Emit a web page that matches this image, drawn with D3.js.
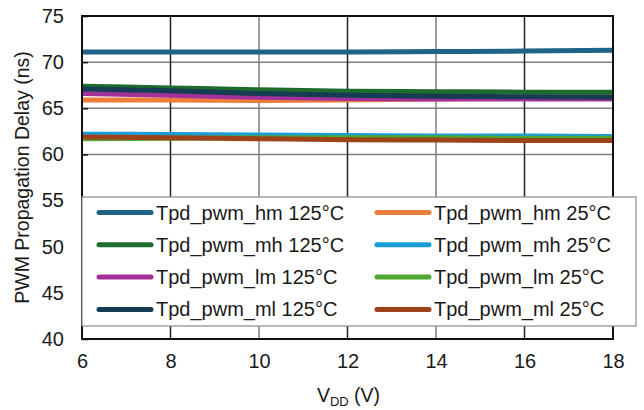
<!DOCTYPE html>
<html>
<head>
<meta charset="utf-8">
<script src="https://cdn.jsdelivr.net/npm/d3@7"></script>
<style>
  body { margin: 0; background: #fff; }
  text { font-family: "Liberation Sans", Arial, sans-serif; fill: #1a1a1a; }
</style>
</head>
<body>
<svg id="chart" width="644" height="410"></svg>
<script>
const vdd = [6, 8, 10, 12, 14, 16, 18];

const hm125 = [71.1, 71.1, 71.1, 71.1, 71.15, 71.2, 71.3];
const mh125 = [67.4, 67.2, 67.0, 66.85, 66.8, 66.75, 66.75];
const lm125 = [66.6, 66.4, 66.2, 66.05, 66.0, 66.0, 66.0];
const ml125 = [67.1, 66.9, 66.6, 66.4, 66.3, 66.25, 66.2];
const hm25 = [65.9, 65.9, 65.85, 65.9, 66.0, 66.15, 66.3];
const mh25 = [62.2, 62.15, 62.1, 62.05, 62.0, 62.0, 61.95];
const lm25 = [61.7, 61.75, 61.8, 61.8, 61.8, 61.75, 61.75];
const ml25 = [61.9, 61.8, 61.7, 61.6, 61.55, 61.5, 61.5];

const xTicks = [6, 8, 10, 12, 14, 16, 18];
const yTicks = [40, 45, 50, 55, 60, 65, 70, 75];

const series = [
  { name: 'Tpd_pwm_hm 125°C', values: hm125, color: '#1f6487' },
  { name: 'Tpd_pwm_mh 125°C', values: mh125, color: '#1e6b2e' },
  { name: 'Tpd_pwm_lm 125°C', values: lm125, color: '#a3309b' },
  { name: 'Tpd_pwm_ml 125°C', values: ml125, color: '#153c52' },
  { name: 'Tpd_pwm_hm 25°C', values: hm25, color: '#ed7d3a' },
  { name: 'Tpd_pwm_mh 25°C', values: mh25, color: '#1a9cd8' },
  { name: 'Tpd_pwm_lm 25°C', values: lm25, color: '#4ea72e' },
  { name: 'Tpd_pwm_ml 25°C', values: ml25, color: '#9e4319' }
];

let margin = { top: 16, right: 31, bottom: 71, left: 82 };
let width = 644 - margin.left - margin.right;
let height = 410 - margin.top - margin.bottom;

let x = d3.scaleLinear().domain([6, 18]).range([0, width]);
let y = d3.scaleLinear().domain([40, 75]).range([height, 0]);

let svg = d3.select('#chart');
let chart = svg.append('g')
    .attr('transform', `translate(${margin.left},${margin.top})`);

// grid
chart.selectAll('.hgrid')
    .data(yTicks.slice(1, -1))
  .enter().append('line')
    .attr('x1', 0).attr('x2', width)
    .attr('y1', d => y(d)).attr('y2', d => y(d))
    .attr('stroke', '#7f7f7f').attr('stroke-width', 1.5);

chart.selectAll('.vgrid')
    .data(xTicks.slice(1, -1))
  .enter().append('line')
    .attr('x1', d => x(d)).attr('x2', d => x(d))
    .attr('y1', 0).attr('y2', height)
    .attr('stroke', (d, i) => i % 2 ? '#7f7f7f' : '#222').attr('stroke-width', 1.5);

// lines (25°C drawn first, 125°C on top)
let line = d3.line()
    .x((d, i) => x(vdd[i]))
    .y(d => y(d))
    .curve(d3.curveMonotoneX);

let drawOrder = series.slice(4).concat(series.slice(0, 4));

chart.selectAll('.series')
    .data(drawOrder)
  .enter().append('path')
    .attr('d', d => line(d.values))
    .attr('fill', 'none')
    .attr('stroke', d => d.color)
    .attr('stroke-width', 5);

// frame
chart.append('rect')
    .attr('width', width).attr('height', height)
    .attr('fill', 'none').attr('stroke', '#111').attr('stroke-width', 2);

// axes
let yAxis = d3.axisLeft(y).tickValues(yTicks).tickSize(-6).tickPadding(18);
let xAxis = d3.axisBottom(x).tickValues(xTicks).tickSize(0).tickPadding(15);

let gy = chart.append('g').call(yAxis);
let gx = chart.append('g').attr('transform', `translate(0,${height})`).call(xAxis);
[gy, gx].forEach(g => {
  g.select('.domain').remove();
  g.selectAll('line').attr('stroke', '#111').attr('stroke-width', 1.5);
  g.selectAll('text').style('font-size', '20px').attr('fill', '#1a1a1a');
});

// legend
let lx0 = 0, ly0 = 181, lw = 554, lh = 129;
let legend = chart.append('g');
legend.append('rect')
    .attr('x', lx0).attr('y', ly0).attr('width', lw).attr('height', lh)
    .attr('fill', '#fff').attr('stroke', '#8a8a8a').attr('stroke-width', 1.2);

let items = legend.selectAll('.item')
    .data(series)
  .enter().append('g')
    .attr('transform', (d, i) => `translate(${i < 4 ? 17 : 295},${ly0 + 15.5 + (i % 4) * 32.3})`);

items.append('line')
    .attr('x1', 0).attr('x2', 52)
    .attr('stroke', d => d.color).attr('stroke-width', 5)
    .attr('stroke-linecap', 'round');

items.append('text')
    .attr('x', 57).attr('dy', '0.35em')
    .style('font-size', '20px')
    .text(d => d.name);

// axis titles
svg.append('text')
    .attr('transform', `translate(29,${margin.top + height / 2}) rotate(-90)`)
    .attr('text-anchor', 'middle')
    .style('font-size', '19.5px')
    .text('PWM Propagation Delay (ns)');

let xt = svg.append('text')
    .attr('x', margin.left + width / 2 + 1).attr('y', 402)
    .attr('text-anchor', 'middle')
    .style('font-size', '19.5px');
xt.append('tspan').text('V');
xt.append('tspan').attr('dy', 4).style('font-size', '13px').text('DD');
xt.append('tspan').attr('dy', -4).text(' (V)');
</script>
</body>
</html>
